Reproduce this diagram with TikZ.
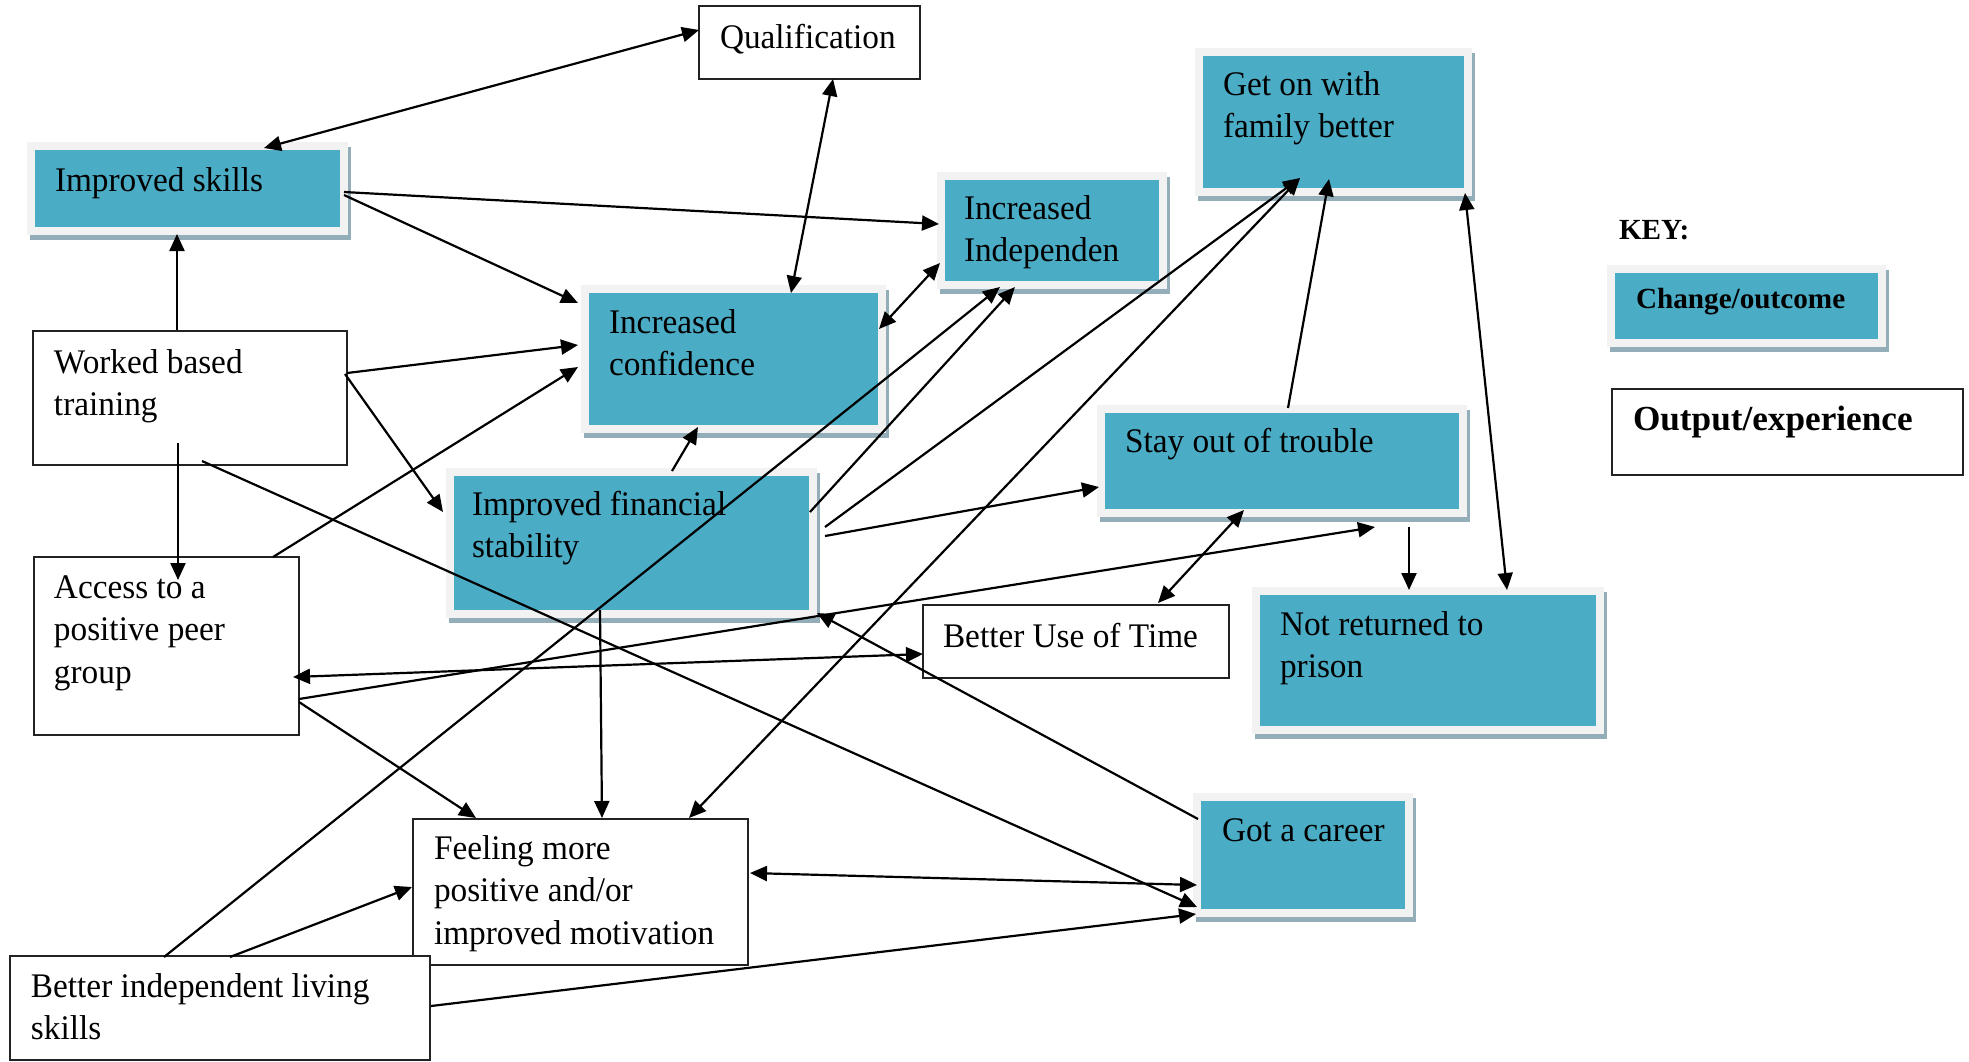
\documentclass[tikz,border=0pt]{standalone}
\usepackage{fontspec}
\setmainfont[FakeStretch=0.965]{Liberation Serif}
\newfontfamily\keyfont{Liberation Serif}
\usetikzlibrary{calc,arrows.meta}
\definecolor{tealc}{HTML}{4BACC6}
\definecolor{framec}{HTML}{F2F2F2}
\definecolor{shadowc}{HTML}{93AEB8}
\definecolor{edgec}{HTML}{222222}
\newcommand\mainsz{\fontsize{17.25pt}{21.4pt}\selectfont}
\newcommand\keysz{\fontsize{14.6pt}{17pt}\selectfont}
\newcommand\outsz{\fontsize{17.6pt}{21pt}\selectfont}
\newcommand\lns[1]{\begin{tabular}[t]{@{}l@{}}#1\end{tabular}}
\begin{document}
\begin{tikzpicture}[x=0.5pt,y=-0.5pt,
  tealbox/.style={fill=tealc, draw=framec, line width=4pt, inner sep=0pt, outer sep=0pt,
    preaction={fill=shadowc, draw=shadowc, transform canvas={xshift=1.5pt,yshift=-2.5pt}}},
  whitebox/.style={fill=white, draw=edgec, line width=1pt, inner sep=0pt, outer sep=0pt},
  txt/.style={anchor=base west, inner sep=0pt, outer sep=0pt, font=\mainsz},
  arr/.style={-{Triangle[length=8.5pt,width=7.5pt]}, line width=1.1pt, black},
  darr/.style={{Triangle[length=8.5pt,width=7.5pt]}-{Triangle[length=8.5pt,width=7.5pt]}, line width=1.1pt, black}]
\useasboundingbox (0,0) rectangle (1969,1061);
% teal boxes
\node[tealbox, minimum width=156.5pt, minimum height=42.5pt] (skills) at (187.5,188.5) {};
\node[tealbox, minimum width=148.5pt, minimum height=70pt] (conf) at (733.5,359) {};
\node[tealbox, minimum width=181.5pt, minimum height=71pt] (fin) at (631.5,543) {};
\node[tealbox, minimum width=111pt, minimum height=54.5pt] (indep) at (1052,230.5) {};
\node[tealbox, minimum width=134.5pt, minimum height=70pt] (fam) at (1333.5,122) {};
\node[tealbox, minimum width=181pt, minimum height=52pt] (stay) at (1282,461) {};
\node[tealbox, minimum width=172pt, minimum height=69.5pt] (notret) at (1428,660.5) {};
\node[tealbox, minimum width=106pt, minimum height=58pt] (career) at (1303,855) {};
\node[tealbox, minimum width=135.5pt, minimum height=37pt] (keyteal) at (1746.5,306) {};
% white boxes
\node[whitebox, minimum width=110.5pt, minimum height=36.5pt] (qual) at (809.5,42.5) {};
\node[whitebox, minimum width=157pt, minimum height=67pt] (work) at (190,398) {};
\node[whitebox, minimum width=132.5pt, minimum height=89pt] (access) at (166.5,646) {};
\node[whitebox, minimum width=153pt, minimum height=36.5pt] (time) at (1076,641.5) {};
\node[whitebox, minimum width=167.5pt, minimum height=73pt] (feel) at (580.5,892) {};
\node[whitebox, minimum width=210pt, minimum height=52pt] (living) at (220,1008) {};
\node[whitebox, minimum width=175.5pt, minimum height=43pt] (keywhite) at (1787.5,432) {};
% texts
\node[txt] (qual-t) at (720,48) {Qualification};
\node[txt] (skills-t) at (55,191) {Improved skills};
\node[txt] (work-t) at (54,373) {\lns{Worked based\\training}};
\node[txt] (access-t) at (54,598) {\lns{Access to a\\positive peer\\group}};
\node[txt] (conf-t) at (609,333) {\lns{Increased\\confidence}};
\node[txt] (fin-t) at (472,515) {\lns{Improved financial\\stability}};
\node[txt] (indep-t) at (964,219) {\lns{Increased\\Independen}};
\node[txt] (fam-t) at (1223,95) {\lns{Get on with\\family better}};
\node[txt] (stay-t) at (1125,452) {Stay out of trouble};
\node[txt] (time-t) at (943,647) {Better Use of Time};
\node[txt] (notret-t) at (1280,635) {\lns{Not returned to\\prison}};
\node[txt] (feel-t) at (434,859) {\lns{Feeling more\\positive and/or\\improved motivation}};
\node[txt] (career-t) at (1222,841) {Got a career};
\node[txt] (living-t) at (31,997) {\lns{Better independent living\\skills}};
\node[txt, font=\keyfont\keysz\bfseries] (key-t) at (1619,239) {KEY:};
\node[txt, font=\keyfont\keysz\bfseries] (keyteal-t) at (1636,308) {Change/outcome};
\node[txt, font=\keyfont\outsz\bfseries] (keywhite-t) at (1633,430) {Output/experience};
% connectors
\draw[darr] ($(qual.north west)+(0,24)$) -- ($(skills.north west)+(233,2)$);
\draw[darr] ($(qual.north west)+(134,73)$) -- ($(conf.north west)+(206,4)$);
\draw[arr] ($(skills.north west)+(313,46)$) -- ($(indep.north west)+(-2,48)$);
\draw[arr] ($(skills.north west)+(313,49)$) -- ($(conf.north west)+(-7,14)$);
\draw[arr] ($(work.north west)+(144,-1)$) -- ($(skills.north west)+(146,88)$);
\draw[arr] ($(work.north west)+(314,42)$) -- ($(conf.north west)+(-7,56)$);
\draw[arr] ($(work.north west)+(312,43)$) -- ($(fin.north west)+(-7,40)$);
\draw[arr] ($(work.north west)+(145,112)$) -- ($(access.north west)+(144,23)$);
\draw[arr] ($(work.north west)+(169,130)$) -- ($(career.north west)+(0,110)$);
\draw[arr] ($(access.north west)+(239,0)$) -- ($(conf.north west)+(-7,78)$);
\draw[darr] ($(access.north west)+(259,120)$) -- ($(time.north west)+(0,49)$);
\draw[arr] ($(access.north west)+(265,142)$) -- ($(stay.north west)+(274,118)$);
\draw[arr] ($(access.north west)+(265,145)$) -- ($(feel.north west)+(63,-1)$);
\draw[arr] ($(fin.north west)+(222,-1)$) -- ($(conf.north west)+(113,138)$);
\draw[darr] ($(conf.north west)+(294,40)$) -- ($(indep.north west)+(-1,87)$);
\draw[arr] ($(fin.north west)+(360,40)$) -- ($(indep.north west)+(74,111)$);
\draw[arr] ($(living.north west)+(154,1)$) -- ($(indep.north west)+(59,111)$);
\draw[arr] ($(fin.north west)+(375,55)$) -- ($(fam.north west)+(101,126)$);
\draw[darr] ($(feel.north west)+(276,-1)$) -- ($(fam.north west)+(101,126)$);
\draw[arr] ($(stay.north west)+(187,-1)$) -- ($(fam.north west)+(130,127)$);
\draw[darr] ($(fam.north west)+(266,141)$) -- ($(notret.north west)+(251,-1)$);
\draw[arr] ($(stay.north west)+(308,118)$) -- ($(notret.north west)+(153,-1)$);
\draw[arr] ($(fin.north west)+(375,64)$) -- ($(stay.north west)+(-2,78)$);
\draw[darr] ($(time.north west)+(235,-2)$) -- ($(stay.north west)+(143,101)$);
\draw[arr] ($(career.north west)+(1,22)$) -- ($(fin.north west)+(367,141)$);
\draw[arr] ($(fin.north west)+(150,138)$) -- ($(feel.north west)+(189,-1)$);
\draw[darr] ($(feel.north west)+(337,54)$) -- ($(career.north west)+(0,88)$);
\draw[arr] ($(living.north west)+(220,1)$) -- ($(feel.north west)+(-1,68)$);
\draw[arr] ($(living.north west)+(421,50)$) -- ($(career.north west)+(-1,117)$);
\end{tikzpicture}
\end{document}
